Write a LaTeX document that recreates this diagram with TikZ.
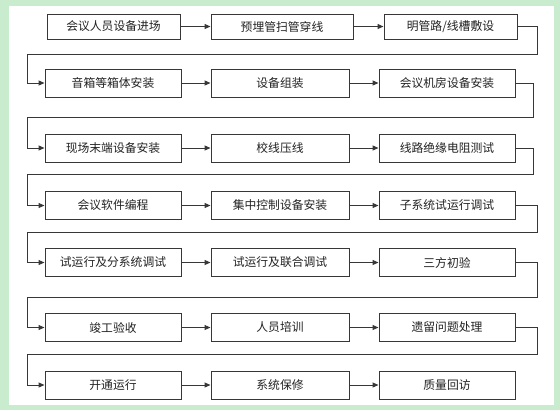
\documentclass[tikz,border=0pt]{standalone}
\usepackage{fontspec}
\newfontfamily\cjk{Noto Sans CJK SC}
\usetikzlibrary{arrows.meta}
\definecolor{bggreen}{RGB}{202,236,206}
\definecolor{linegray}{RGB}{55,55,55}
\definecolor{txtgray}{RGB}{35,35,35}
\tikzset{
  stepbox/.style={draw=linegray, line width=1pt, fill=white, minimum height=28pt, inner sep=0pt,
    font=\cjk\fontsize{11.8pt}{13pt}\selectfont, text=txtgray},
  wA/.style={minimum width=136pt},
  wB/.style={minimum width=138pt},
  flow/.style={draw=linegray, line width=1pt, -{Triangle[length=6pt,width=5pt]}},
}
\begin{document}
\begin{tikzpicture}[x=1pt,y=1pt]
\useasboundingbox (0,0) rectangle (560,-410);
\fill[bggreen] (0,0) rectangle (560,-410);
\fill[white] (9,-6) rectangle (554,-405);

% row 1
\node[stepbox, minimum width=133pt, minimum height=25pt] (a1) at (113.5,-26.5) {会议人员设备进场};
\node[stepbox, minimum width=142pt, minimum height=25pt] (a2) at (282,-26.5) {预埋管扫管穿线};
\node[stepbox, minimum width=133pt, minimum height=25pt] (a3) at (450.5,-26.5) {明管路/线槽敷设};
% row 2
\node[stepbox, wA] (b1) at (113,-83) {音箱等箱体安装};
\node[stepbox, wB] (b2) at (280,-83) {设备组装};
\node[stepbox, wA] (b3) at (447,-83) {会议机房设备安装};
% row 3
\node[stepbox, wA] (c1) at (113,-148) {现场末端设备安装};
\node[stepbox, wB] (c2) at (280,-148) {校线压线};
\node[stepbox, wA] (c3) at (447,-148) {线路绝缘电阻测试};
% row 4
\node[stepbox, wA] (d1) at (113,-205.5) {会议软件编程};
\node[stepbox, wB] (d2) at (280,-205.5) {集中控制设备安装};
\node[stepbox, wA] (d3) at (447,-205.5) {子系统试运行调试};
% row 5
\node[stepbox, wA] (e1) at (113,-262.5) {试运行及分系统调试};
\node[stepbox, wB] (e2) at (280,-262.5) {试运行及联合调试};
\node[stepbox, wA] (e3) at (447,-262.5) {三方初验};
% row 6
\node[stepbox, wA] (f1) at (113,-327.5) {竣工验收};
\node[stepbox, wB] (f2) at (280,-327.5) {人员培训};
\node[stepbox, wA] (f3) at (447,-327.5) {遗留问题处理};
% row 7
\node[stepbox, wA] (g1) at (113,-385) {开通运行};
\node[stepbox, wB] (g2) at (280,-385) {系统保修};
\node[stepbox, wA] (g3) at (447,-385) {质量回访};

% horizontal arrows
\foreach \r in {a,b,c,d,e,f,g}{
  \draw[flow] (\r1.east) -- (\r2.west);
  \draw[flow] (\r2.east) -- (\r3.west);
}

% turn points
\coordinate (ta) at (537,-54);  \coordinate (la) at (27,-54);
\coordinate (tb) at (533,-117); \coordinate (lb) at (27,-117);
\coordinate (tc) at (533,-174); \coordinate (lc) at (27,-174);
\coordinate (td) at (537,-232); \coordinate (ld) at (27,-232);
\coordinate (te) at (537,-297); \coordinate (le) at (27,-297);
\coordinate (tf) at (537,-354); \coordinate (lf) at (27,-354);

\draw[flow] (a3.east) -| (ta) -- (la) |- (b1.west);
\draw[flow] (b3.east) -| (tb) -- (lb) |- (c1.west);
\draw[flow] (c3.east) -| (tc) -- (lc) |- (d1.west);
\draw[flow] (d3.east) -| (td) -- (ld) |- (e1.west);
\draw[flow] (e3.east) -| (te) -- (le) |- (f1.west);
\draw[flow] (f3.east) -| (tf) -- (lf) |- (g1.west);
\end{tikzpicture}
\end{document}
